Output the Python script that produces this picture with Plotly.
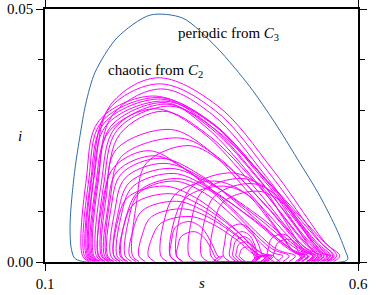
import plotly.graph_objects as go

# periodic orbit (from C3)
periodic_s = [0.160, 0.147, 0.1415, 0.140, 0.1408, 0.1435, 0.1485, 0.156, 0.165, 0.180, 0.215, 0.268,
              0.320, 0.375, 0.4275, 0.4674, 0.5026, 0.5393, 0.5665, 0.5792, 0.5838, 0.578, 0.40, 0.160]
periodic_i = [0.0001, 0.0008, 0.0030, 0.0063, 0.0095, 0.0135, 0.0190, 0.0250, 0.0312, 0.0375, 0.0443, 0.0488,
              0.0482, 0.0423, 0.0346, 0.0275, 0.0205, 0.0130, 0.0063, 0.0024, 0.0006, 0.0001, 0.0001, 0.0001]

# chaotic trajectory (from C2): each epidemic arc read at a few heights
# s at bottom-left, s at half height (left), s at 0.85 height (left), s at peak, peak i,
# s at 0.85 height (right), s at half height (right), s at 0.12 height (right), s at bottom-right
arc_sL   = [0.172, 0.168, 0.176, 0.160, 0.163, 0.166, 0.170, 0.178, 0.182, 0.186, 0.174, 0.190,
            0.195, 0.200, 0.205, 0.210, 0.215, 0.222, 0.185,
            0.310, 0.330, 0.350, 0.300, 0.365, 0.285,
            0.210, 0.220, 0.235, 0.250, 0.265, 0.228,
            0.395, 0.400, 0.405, 0.410, 0.385, 0.300, 0.310, 0.455, 0.465,
            0.192, 0.198, 0.240]
arc_sHL  = [0.180, 0.176, 0.185, 0.166, 0.170, 0.173, 0.177, 0.185, 0.190, 0.194, 0.181, 0.198,
            0.200, 0.205, 0.211, 0.216, 0.221, 0.228, 0.191,
            0.315, 0.334, 0.354, 0.305, 0.369, 0.290,
            0.215, 0.225, 0.240, 0.255, 0.270, 0.233,
            0.396, 0.401, 0.406, 0.411, 0.387, 0.302, 0.312, 0.457, 0.467,
            0.198, 0.204, 0.246]
arc_s85L = [0.204, 0.200, 0.208, 0.186, 0.190, 0.194, 0.198, 0.205, 0.212, 0.216, 0.202, 0.220,
            0.215, 0.222, 0.228, 0.235, 0.240, 0.250, 0.210,
            0.335, 0.352, 0.372, 0.325, 0.385, 0.310,
            0.232, 0.242, 0.256, 0.270, 0.285, 0.250,
            0.400, 0.405, 0.409, 0.414, 0.392, 0.308, 0.318, 0.462, 0.472,
            0.214, 0.222, 0.262]
arc_sP   = [0.279, 0.282, 0.285, 0.272, 0.280, 0.285, 0.290, 0.292, 0.295, 0.300, 0.276, 0.288,
            0.275, 0.285, 0.290, 0.300, 0.305, 0.310, 0.265,
            0.400, 0.415, 0.430, 0.385, 0.440, 0.370,
            0.290, 0.300, 0.310, 0.320, 0.330, 0.305,
            0.415, 0.418, 0.420, 0.422, 0.412, 0.330, 0.338, 0.480, 0.490,
            0.300, 0.315, 0.330]
arc_h    = [0.0364, 0.0352, 0.0342, 0.0328, 0.0325, 0.0322, 0.0318, 0.0315, 0.0312, 0.0308, 0.0303, 0.0298,
            0.0210, 0.0205, 0.0195, 0.0185, 0.0175, 0.0165, 0.0220,
            0.0176, 0.0165, 0.0155, 0.0150, 0.0140, 0.0160,
            0.0150, 0.0135, 0.0120, 0.0105, 0.0090, 0.0160,
            0.0060, 0.0050, 0.0040, 0.0030, 0.0075, 0.0080, 0.0060, 0.0055, 0.0045,
            0.0262, 0.0245, 0.0230]
arc_s85R = [0.375, 0.372, 0.368, 0.362, 0.366, 0.360, 0.370, 0.356, 0.364, 0.372, 0.350, 0.358,
            0.330, 0.345, 0.352, 0.360, 0.358, 0.365, 0.320,
            0.445, 0.460, 0.470, 0.430, 0.478, 0.420,
            0.340, 0.345, 0.352, 0.360, 0.365, 0.355,
            0.428, 0.428, 0.428, 0.428, 0.428, 0.350, 0.352, 0.492, 0.500,
            0.360, 0.375, 0.385]
arc_sHR  = [0.464, 0.458, 0.452, 0.448, 0.452, 0.444, 0.456, 0.438, 0.446, 0.460, 0.432, 0.442,
            0.400, 0.420, 0.430, 0.440, 0.428, 0.435, 0.392,
            0.480, 0.495, 0.505, 0.465, 0.510, 0.460,
            0.395, 0.400, 0.400, 0.405, 0.405, 0.410,
            0.436, 0.435, 0.434, 0.433, 0.440, 0.365, 0.364, 0.502, 0.510,
            0.430, 0.445, 0.450]
arc_s12R = [0.544, 0.538, 0.530, 0.528, 0.534, 0.520, 0.540, 0.514, 0.524, 0.548, 0.508, 0.518,
            0.470, 0.495, 0.505, 0.512, 0.495, 0.500, 0.462,
            0.515, 0.530, 0.540, 0.500, 0.545, 0.498,
            0.445, 0.448, 0.442, 0.445, 0.440, 0.462,
            0.442, 0.441, 0.439, 0.437, 0.450, 0.378, 0.374, 0.510, 0.518,
            0.505, 0.515, 0.512]
arc_sR   = [0.566, 0.560, 0.552, 0.550, 0.556, 0.542, 0.562, 0.536, 0.546, 0.571, 0.530, 0.540,
            0.500, 0.520, 0.528, 0.535, 0.515, 0.520, 0.490,
            0.528, 0.545, 0.555, 0.512, 0.560, 0.510,
            0.462, 0.465, 0.458, 0.460, 0.455, 0.480,
            0.446, 0.444, 0.442, 0.440, 0.455, 0.384, 0.379, 0.514, 0.522,
            0.528, 0.538, 0.532]

chaos_s, chaos_i = [], []
for k in range(len(arc_sL)):
    h = arc_h[k]
    chaos_s += [arc_sL[k] + 0.010, arc_sL[k], arc_sHL[k], arc_s85L[k], arc_sP[k],
                arc_s85R[k], arc_sHR[k], arc_s12R[k], arc_sR[k], arc_sR[k] - 0.010, None]
    chaos_i += [0.0001, 0.0012, 0.5 * h, 0.85 * h, h,
                0.85 * h, 0.5 * h, 0.12 * h, 0.0012, 0.0001, None]

fig = go.Figure()
fig.add_trace(go.Scatter(x=chaos_s, y=chaos_i, mode="lines",
                         line=dict(color="#ff00ff", width=1, shape="spline", smoothing=1.0),
                         connectgaps=False, hoverinfo="skip", showlegend=False))
fig.add_trace(go.Scatter(x=periodic_s, y=periodic_i, mode="lines",
                         line=dict(color="#2f6aa8", width=1, shape="spline", smoothing=0.8),
                         hoverinfo="skip", showlegend=False))

font = dict(family="Liberation Serif", size=15, color="black")
fig.update_layout(
    width=382, height=295,
    margin=dict(l=45, r=24, t=9, b=33, autoexpand=False),
    paper_bgcolor="white", plot_bgcolor="white",
    font=font,
    xaxis=dict(range=[0.1, 0.6], tickvals=[0.1, 0.6], ticktext=["0.1", "0.6"],
               ticks="outside", ticklen=7, tickwidth=1.2, tickcolor="black",
               showline=True, linecolor="black", linewidth=1.5, mirror="ticks",
               showgrid=False, zeroline=False, tickfont=font, automargin=False),
    yaxis=dict(range=[0, 0.05], tickvals=[0, 0.05], ticktext=["0.00", "0.05"],
               ticks="outside", ticklen=7, tickwidth=1.2, tickcolor="black",
               showline=True, linecolor="black", linewidth=1.5, mirror="ticks",
               showgrid=False, zeroline=False, tickfont=font, automargin=False,
               minor=dict(tickvals=[0.01, 0.02, 0.03, 0.04], ticks="outside",
                          ticklen=5, tickwidth=1.2, tickcolor="black", showgrid=False)),
    annotations=[
        dict(text="<i>s</i>", x=0.5, y=-0.083, xref="paper", yref="paper",
             xanchor="center", yanchor="middle", showarrow=False, font=font),
        dict(text="<i>i</i>", x=-0.08, y=0.5, xref="paper", yref="paper",
             xanchor="center", yanchor="middle", showarrow=False, font=font),
        dict(text="periodic from <i>C</i><sub>3</sub>", x=0.3935, y=0.0450, xref="x", yref="y",
             xanchor="center", yanchor="middle", showarrow=False, font=font),
        dict(text="chaotic from <i>C</i><sub>2</sub>", x=0.2760, y=0.0378, xref="x", yref="y",
             xanchor="center", yanchor="middle", showarrow=False, font=font),
    ],
)
fig.write_html("out.html", config={"displayModeBar": False},
               post_script="document.body.style.margin='0px';document.body.style.overflow='hidden';")
